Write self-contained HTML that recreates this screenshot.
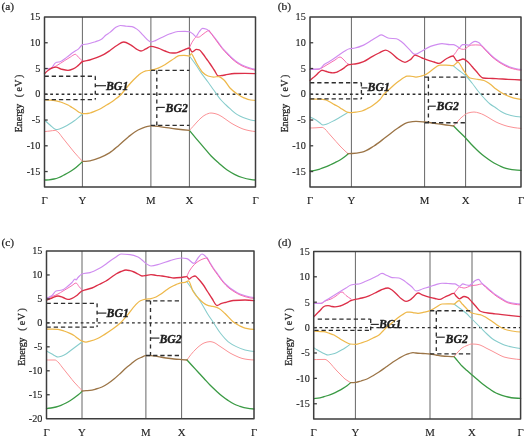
<!DOCTYPE html>
<html><head><meta charset="utf-8"><title>Band structures</title>
<style>
html,body{margin:0;padding:0;background:#fff;}
body{width:525px;height:436px;overflow:hidden;}
svg{display:block;filter:blur(0.35px);}
text{font-family:"Liberation Serif",serif;fill:#1e1e1e;stroke:#1e1e1e;stroke-width:0.14px;}
.tk{font-size:10.2px;text-anchor:end;}
.kl{font-size:10.8px;text-anchor:middle;}
.ttl{font-size:9.9px;stroke-width:0.25px;}
.pl{font-size:11.4px;stroke-width:0.2px;}
.bg{font-size:11.8px;font-weight:bold;font-style:italic;stroke-width:0.35px;}
</style></head>
<body>
<svg width="525" height="436" viewBox="0 0 525 436">
<rect x="0" y="0" width="525" height="436" fill="#fff"/>
<line x1="82.40" y1="17.00" x2="82.40" y2="187.00" stroke="#666666" stroke-width="1.0"/>
<line x1="150.90" y1="17.00" x2="150.90" y2="187.00" stroke="#666666" stroke-width="1.0"/>
<line x1="189.40" y1="17.00" x2="189.40" y2="187.00" stroke="#666666" stroke-width="1.0"/>
<line x1="44.50" y1="94.27" x2="255.50" y2="94.27" stroke="#2e2e2e" stroke-width="1.3" stroke-dasharray="2.8,2.9"/>
<path d="M44.50,68.60 C46.63,68.60 48.77,68.48 50.90,68.30 C52.80,68.14 54.70,66.70 56.60,65.70 C59.27,64.29 61.93,62.27 64.60,60.60 C66.50,59.41 68.40,58.20 70.30,57.10 C72.00,56.12 73.70,54.30 75.40,54.30 C76.37,54.30 77.33,56.18 78.30,57.10 C79.73,58.46 81.17,59.80 82.60,61.10" fill="none" stroke="#f766ac" stroke-width="0.95" stroke-linejoin="round" stroke-linecap="round"/>
<path d="M189.40,47.80 C190.53,45.10 191.67,42.71 192.80,41.10 C194.03,39.34 195.27,37.00 196.50,37.00 C197.10,37.00 197.70,37.20 198.30,37.20 C199.87,37.20 201.43,35.25 203.00,34.20 C204.50,33.19 206.00,31.64 207.50,31.00 C208.00,30.79 208.50,30.62 209.00,30.50" fill="none" stroke="#f766ac" stroke-width="0.95" stroke-linejoin="round" stroke-linecap="round"/>
<path d="M44.50,68.60 C46.63,68.60 48.77,68.60 50.90,68.60 C52.23,68.60 53.57,64.50 54.90,63.40 C55.47,62.93 56.03,62.47 56.60,62.30 C57.73,61.96 58.87,62.00 60.00,61.70 C62.30,61.10 64.60,58.72 66.90,57.10 C69.17,55.50 71.43,53.54 73.70,52.00 C75.23,50.96 76.77,50.31 78.30,49.10 C79.73,47.97 81.17,44.92 82.60,44.60 C84.20,44.24 85.80,44.27 87.40,44.00 C90.07,43.55 92.73,42.59 95.40,41.70 C97.27,41.07 99.13,40.53 101.00,39.50 C102.67,38.58 104.33,36.25 106.00,35.00 C107.33,34.00 108.67,33.39 110.00,32.40 C111.83,31.04 113.67,28.66 115.50,27.60 C117.10,26.67 118.70,25.50 120.30,25.50 C122.37,25.50 124.43,26.02 126.50,26.20 C128.33,26.36 130.17,26.36 132.00,26.60 C133.83,26.84 135.67,28.31 137.50,29.60 C139.33,30.89 141.17,33.27 143.00,35.10 C144.83,36.93 146.67,39.29 148.50,40.60 C149.30,41.17 150.10,42.00 150.90,42.00 C152.40,42.00 153.90,41.16 155.40,40.60 C157.70,39.74 160.00,38.27 162.30,37.20 C164.87,36.00 167.43,34.70 170.00,33.80 C172.67,32.87 175.33,31.64 178.00,31.50 C180.33,31.38 182.67,31.30 185.00,31.30 C186.47,31.30 187.93,31.51 189.40,31.80 C190.60,32.04 191.80,33.15 193.00,34.00 C194.00,34.71 195.00,36.50 196.00,36.50 C197.00,36.50 198.00,33.23 199.00,32.00 C200.17,30.57 201.33,28.40 202.50,28.40 C203.87,28.40 205.23,28.76 206.60,29.20 C207.83,29.60 209.07,31.17 210.30,32.40 C211.87,33.96 213.43,36.01 215.00,38.00 C216.67,40.12 218.33,42.54 220.00,44.80 C220.67,45.70 221.33,46.68 222.00,47.50 C223.67,49.55 225.33,51.25 227.00,53.00 C228.67,54.75 230.33,56.52 232.00,58.00 C233.67,59.48 235.33,60.86 237.00,62.00 C238.67,63.14 240.33,64.20 242.00,65.00 C243.67,65.80 245.33,66.44 247.00,67.00 C249.83,67.95 252.67,68.81 255.50,69.40" fill="none" stroke="#cf8cf0" stroke-width="1.15" stroke-linejoin="round" stroke-linecap="round"/>
<path d="M209.00,30.50 C211.00,33.34 213.00,36.14 215.00,38.90 C216.67,41.20 218.33,43.44 220.00,45.70 C220.67,46.60 221.33,47.58 222.00,48.40 C223.67,50.45 225.33,52.15 227.00,53.90 C228.67,55.65 230.33,57.42 232.00,58.90 C233.67,60.38 235.33,61.76 237.00,62.90 C238.67,64.04 240.33,65.10 242.00,65.90 C243.67,66.70 245.33,67.34 247.00,67.90 C249.83,68.85 252.67,69.71 255.50,70.30" fill="none" stroke="#f766ac" stroke-width="0.95" stroke-linejoin="round" stroke-linecap="round"/>
<path d="M44.50,73.70 C45.87,72.23 47.23,70.97 48.60,70.00 C49.73,69.20 50.87,68.37 52.00,68.00 C53.33,67.56 54.67,67.10 56.00,67.10 C57.70,67.10 59.40,68.68 61.10,69.10 C63.40,69.67 65.70,70.30 68.00,70.30 C69.90,70.30 71.80,69.40 73.70,68.60 C75.23,67.95 76.77,66.61 78.30,65.40 C79.73,64.27 81.17,62.02 82.60,61.50 C84.97,60.65 87.33,60.61 89.70,60.00 C92.00,59.40 94.30,58.59 96.60,57.70 C99.07,56.75 101.53,55.62 104.00,54.30 C106.00,53.23 108.00,51.85 110.00,50.50 C112.30,48.95 114.60,46.87 116.90,45.50 C119.20,44.13 121.50,42.00 123.80,42.00 C126.07,42.00 128.33,43.59 130.60,44.80 C132.43,45.78 134.27,47.91 136.10,48.90 C137.73,49.78 139.37,51.00 141.00,51.00 C142.60,51.00 144.20,49.64 145.80,48.90 C147.50,48.11 149.20,46.40 150.90,46.40 C153.33,46.40 155.77,47.45 158.20,48.20 C160.47,48.90 162.73,50.13 165.00,51.00 C166.67,51.64 168.33,52.68 170.00,52.80 C171.67,52.92 173.33,53.00 175.00,53.00 C176.67,53.00 178.33,52.07 180.00,51.50 C181.67,50.93 183.33,50.11 185.00,49.50 C186.47,48.96 187.93,48.00 189.40,48.00 C190.27,48.00 191.13,52.00 192.00,52.00 C193.50,52.00 195.00,49.40 196.50,49.40 C197.43,49.40 198.37,49.57 199.30,49.80 C200.53,50.10 201.77,52.46 203.00,54.00 C204.20,55.50 205.40,57.33 206.60,59.00 C207.80,60.67 209.00,62.26 210.20,64.00 C211.63,66.07 213.07,68.38 214.50,70.50 C215.77,72.37 217.03,76.00 218.30,76.00 C219.53,76.00 220.77,75.68 222.00,75.50 C223.00,75.35 224.00,75.16 225.00,75.00 C228.10,74.49 231.20,73.61 234.30,73.50 C237.87,73.38 241.43,73.30 245.00,73.30 C248.50,73.30 252.00,73.42 255.50,73.60" fill="none" stroke="#dc2f48" stroke-width="1.35" stroke-linejoin="round" stroke-linecap="round"/>
<path d="M44.50,120.00 C46.33,121.79 48.17,123.47 50.00,125.00 C52.00,126.67 54.00,129.60 56.00,129.60 C57.33,129.60 58.67,129.17 60.00,128.80 C61.33,128.43 62.67,127.65 64.00,127.00 C65.67,126.18 67.33,125.29 69.00,124.30 C70.67,123.31 72.33,122.21 74.00,121.00 C75.33,120.03 76.67,118.91 78.00,117.80 C79.47,116.58 80.93,115.32 82.40,114.00" fill="none" stroke="#86cccc" stroke-width="1.05" stroke-linejoin="round" stroke-linecap="round"/>
<path d="M189.40,56.00 C191.60,58.83 193.80,61.84 196.00,65.00 C198.07,67.97 200.13,71.50 202.20,74.40 C204.13,77.12 206.07,79.38 208.00,82.00 C209.90,84.58 211.80,87.36 213.70,90.00 C216.13,93.38 218.57,97.21 221.00,100.00 C222.67,101.91 224.33,103.40 226.00,105.00 C227.33,106.28 228.67,107.53 230.00,108.70 C232.30,110.72 234.60,112.98 236.90,114.40 C239.20,115.82 241.50,116.93 243.80,117.80 C246.07,118.66 248.33,119.42 250.60,119.90 C252.23,120.24 253.87,120.53 255.50,120.70" fill="none" stroke="#86cccc" stroke-width="1.05" stroke-linejoin="round" stroke-linecap="round"/>
<path d="M44.50,100.00 C46.33,100.01 48.17,100.10 50.00,100.20 C52.00,100.31 54.00,100.50 56.00,100.80 C58.00,101.10 60.00,101.83 62.00,102.50 C64.00,103.17 66.00,103.99 68.00,105.00 C69.33,105.68 70.67,106.67 72.00,107.50 C73.33,108.33 74.67,109.10 76.00,110.00 C77.00,110.68 78.00,111.67 79.00,112.20 C80.13,112.80 81.27,113.60 82.40,113.60 C83.60,113.60 84.80,113.60 86.00,113.60 C87.33,113.60 88.67,113.28 90.00,113.00 C91.67,112.65 93.33,111.86 95.00,111.20 C96.67,110.54 98.33,109.85 100.00,109.00 C101.67,108.15 103.33,107.00 105.00,106.00 C106.67,105.00 108.33,104.08 110.00,103.00 C111.67,101.92 113.33,100.74 115.00,99.50 C116.67,98.26 118.33,97.07 120.00,95.50 C121.33,94.25 122.67,92.58 124.00,91.00 C125.33,89.42 126.67,87.57 128.00,86.00 C129.80,83.88 131.60,81.86 133.40,80.00 C134.60,78.76 135.80,77.59 137.00,76.50 C138.10,75.50 139.20,74.41 140.30,73.70 C142.13,72.51 143.97,71.29 145.80,70.90 C147.50,70.54 149.20,70.50 150.90,70.20 C153.33,69.76 155.77,69.07 158.20,68.20 C160.47,67.39 162.73,66.04 165.00,64.70 C166.67,63.72 168.33,62.42 170.00,61.30 C171.67,60.18 173.33,59.05 175.00,58.00 C176.33,57.16 177.67,55.75 179.00,55.60 C180.67,55.41 182.33,55.30 184.00,55.30 C185.80,55.30 187.60,56.00 189.40,56.00 C190.03,56.00 190.67,53.50 191.30,53.50 C192.03,53.50 192.77,55.71 193.50,57.00 C194.50,58.76 195.50,61.18 196.50,63.00 C197.50,64.82 198.50,66.43 199.50,68.00 C200.40,69.41 201.30,71.11 202.20,72.00 C204.13,73.90 206.07,75.46 208.00,76.00 C209.90,76.53 211.80,77.00 213.70,77.00 C215.40,77.00 217.10,76.50 218.80,76.50 C220.53,76.50 222.27,78.46 224.00,80.00 C226.00,81.78 228.00,85.93 230.00,88.00 C232.30,90.38 234.60,92.22 236.90,93.80 C239.20,95.38 241.50,96.85 243.80,97.80 C246.07,98.74 248.33,99.71 250.60,100.00 C252.23,100.21 253.87,100.40 255.50,100.40" fill="none" stroke="#eeb84a" stroke-width="1.25" stroke-linejoin="round" stroke-linecap="round"/>
<path d="M44.50,131.60 C46.33,131.41 48.17,131.21 50.00,131.00 C51.67,130.81 53.33,130.40 55.00,130.40 C56.00,130.40 57.00,131.27 58.00,132.00 C59.33,132.98 60.67,135.33 62.00,137.00 C63.33,138.67 64.67,140.33 66.00,142.00 C67.33,143.67 68.67,145.33 70.00,147.00 C71.33,148.67 72.67,150.42 74.00,152.00 C75.33,153.58 76.67,155.04 78.00,156.50 C79.47,158.11 80.93,159.68 82.40,161.20" fill="none" stroke="#fb9296" stroke-width="1.00" stroke-linejoin="round" stroke-linecap="round"/>
<path d="M189.40,130.40 C190.60,129.12 191.80,127.82 193.00,126.50 C194.33,125.03 195.67,123.41 197.00,122.00 C198.33,120.59 199.67,119.14 201.00,118.00 C202.33,116.86 203.67,115.63 205.00,115.00 C207.00,114.05 209.00,113.00 211.00,113.00 C212.33,113.00 213.67,113.32 215.00,113.60 C216.33,113.88 217.67,114.41 219.00,115.00 C221.00,115.88 223.00,117.47 225.00,118.80 C227.00,120.13 229.00,121.77 231.00,123.00 C233.00,124.23 235.00,125.31 237.00,126.30 C239.00,127.29 241.00,128.33 243.00,129.00 C245.00,129.67 247.00,130.21 249.00,130.60 C251.17,131.02 253.33,131.39 255.50,131.60" fill="none" stroke="#fb9296" stroke-width="1.00" stroke-linejoin="round" stroke-linecap="round"/>
<path d="M44.50,180.00 C46.00,180.00 47.50,179.90 49.00,179.80 C50.67,179.69 52.33,179.35 54.00,179.00 C55.67,178.65 57.33,178.12 59.00,177.50 C60.67,176.88 62.33,175.87 64.00,175.00 C65.67,174.13 67.33,173.29 69.00,172.30 C70.67,171.31 72.33,170.21 74.00,169.00 C75.33,168.03 76.67,166.96 78.00,165.80 C79.47,164.53 80.93,163.12 82.40,161.60" fill="none" stroke="#3a9a44" stroke-width="1.30" stroke-linejoin="round" stroke-linecap="round"/>
<path d="M189.40,130.40 C191.60,133.06 193.80,135.70 196.00,138.30 C198.57,141.34 201.13,144.30 203.70,147.30 C206.27,150.30 208.83,153.65 211.40,156.30 C213.97,158.95 216.53,161.16 219.10,163.40 C221.67,165.64 224.23,168.04 226.80,169.80 C229.37,171.56 231.93,173.05 234.50,174.30 C237.07,175.55 239.63,176.71 242.20,177.50 C244.77,178.29 247.33,179.02 249.90,179.40 C251.77,179.67 253.63,179.91 255.50,180.00" fill="none" stroke="#3a9a44" stroke-width="1.30" stroke-linejoin="round" stroke-linecap="round"/>
<path d="M82.40,161.40 C84.93,161.40 87.47,161.11 90.00,160.80 C93.33,160.39 96.67,158.90 100.00,157.60 C103.17,156.37 106.33,154.85 109.50,152.90 C112.67,150.95 115.83,147.88 119.00,145.20 C122.20,142.49 125.40,139.21 128.60,136.70 C131.77,134.21 134.93,131.65 138.10,130.00 C140.63,128.68 143.17,127.45 145.70,126.80 C147.47,126.35 149.23,125.80 151.00,125.80 C154.33,125.80 157.67,126.41 161.00,126.80 C166.07,127.39 171.13,128.38 176.20,129.00 C180.60,129.54 185.00,130.01 189.40,130.40" fill="none" stroke="#9b7446" stroke-width="1.30" stroke-linejoin="round" stroke-linecap="round"/>
<line x1="44.50" y1="76.20" x2="95.30" y2="76.20" stroke="#2e2e2e" stroke-width="1.35" stroke-dasharray="4.3,2.9"/>
<line x1="44.50" y1="99.60" x2="95.30" y2="99.60" stroke="#2e2e2e" stroke-width="1.35" stroke-dasharray="4.3,2.9"/>
<line x1="95.30" y1="76.20" x2="95.30" y2="99.60" stroke="#2e2e2e" stroke-width="1.35" stroke-dasharray="3.8,3.5"/>
<line x1="95.30" y1="85.70" x2="106.00" y2="85.70" stroke="#2e2e2e" stroke-width="1.2"/>
<text x="106.00" y="89.80" class="bg">BG1</text>
<line x1="150.90" y1="70.40" x2="189.40" y2="70.40" stroke="#2e2e2e" stroke-width="1.35" stroke-dasharray="4.3,2.9"/>
<line x1="150.90" y1="125.30" x2="189.40" y2="125.30" stroke="#2e2e2e" stroke-width="1.35" stroke-dasharray="4.3,2.9"/>
<line x1="156.80" y1="70.40" x2="156.80" y2="125.30" stroke="#2e2e2e" stroke-width="1.35" stroke-dasharray="3.8,3.5"/>
<line x1="156.80" y1="107.40" x2="164.80" y2="107.40" stroke="#2e2e2e" stroke-width="1.2"/>
<text x="165.60" y="111.80" class="bg">BG2</text>
<text x="40.30" y="20.20" class="tk">15</text>
<line x1="44.50" y1="42.76" x2="47.70" y2="42.76" stroke="#3d3d3d" stroke-width="1.3"/>
<text x="40.30" y="45.96" class="tk">10</text>
<line x1="44.50" y1="68.52" x2="47.70" y2="68.52" stroke="#3d3d3d" stroke-width="1.3"/>
<text x="40.30" y="71.72" class="tk">5</text>
<line x1="44.50" y1="94.27" x2="47.70" y2="94.27" stroke="#3d3d3d" stroke-width="1.3"/>
<text x="40.30" y="97.47" class="tk">0</text>
<line x1="44.50" y1="120.03" x2="47.70" y2="120.03" stroke="#3d3d3d" stroke-width="1.3"/>
<text x="40.30" y="123.23" class="tk">-5</text>
<line x1="44.50" y1="145.79" x2="47.70" y2="145.79" stroke="#3d3d3d" stroke-width="1.3"/>
<text x="40.30" y="148.99" class="tk">-10</text>
<line x1="44.50" y1="171.55" x2="47.70" y2="171.55" stroke="#3d3d3d" stroke-width="1.3"/>
<text x="40.30" y="174.75" class="tk">-15</text>
<rect x="44.50" y="17.00" width="211.00" height="170.00" fill="none" stroke="#3d3d3d" stroke-width="1.5" stroke-linejoin="round"/>
<text x="44.50" y="204.00" class="kl">Γ</text>
<text x="82.40" y="204.00" class="kl">Y</text>
<text x="150.90" y="204.00" class="kl">M</text>
<text x="189.40" y="204.00" class="kl">X</text>
<text x="255.50" y="204.00" class="kl">Γ</text>
<text transform="translate(22.40,132.20) rotate(-90)" class="ttl"><tspan x="0">Energy</tspan><tspan x="35.0">(</tspan><tspan x="40.6">e</tspan><tspan x="45.5">V</tspan><tspan x="54.3">)</tspan></text>
<text x="1.40" y="10.20" class="pl">(a)</text>
<line x1="351.40" y1="17.00" x2="351.40" y2="187.00" stroke="#666666" stroke-width="1.0"/>
<line x1="424.60" y1="17.00" x2="424.60" y2="187.00" stroke="#666666" stroke-width="1.0"/>
<line x1="465.60" y1="17.00" x2="465.60" y2="187.00" stroke="#666666" stroke-width="1.0"/>
<line x1="310.00" y1="94.27" x2="521.00" y2="94.27" stroke="#2e2e2e" stroke-width="1.3" stroke-dasharray="2.8,2.9"/>
<path d="M310.00,69.40 C312.67,69.40 315.33,69.40 318.00,69.40 C320.33,69.40 322.67,67.26 325.00,66.00 C326.67,65.10 328.33,64.00 330.00,63.00 C331.67,62.00 333.33,61.00 335.00,60.00 C336.67,59.00 338.33,57.00 340.00,57.00 C341.33,57.00 342.67,58.86 344.00,60.00 C345.33,61.14 346.67,63.61 348.00,64.00 C349.13,64.33 350.27,64.60 351.40,64.60" fill="none" stroke="#f766ac" stroke-width="0.95" stroke-linejoin="round" stroke-linecap="round"/>
<path d="M453.00,56.00 C453.90,54.87 454.80,53.74 455.70,52.60 C456.83,51.17 457.97,48.30 459.10,48.30 C459.87,48.30 460.63,48.95 461.40,49.10 C462.17,49.25 462.93,49.40 463.70,49.40 C464.47,49.40 465.23,48.75 466.00,48.30 C466.97,47.73 467.93,46.44 468.90,46.00 C469.83,45.57 470.77,45.18 471.70,45.10 C473.03,44.98 474.37,44.90 475.70,44.90 C477.13,44.90 478.57,44.96 480.00,45.10 C480.67,45.16 481.33,45.73 482.00,46.20" fill="none" stroke="#f766ac" stroke-width="0.95" stroke-linejoin="round" stroke-linecap="round"/>
<path d="M310.00,69.40 C313.13,69.40 316.27,69.25 319.40,68.90 C321.10,68.71 322.80,65.51 324.50,64.30 C326.93,62.57 329.37,61.65 331.80,60.10 C334.20,58.58 336.60,56.66 339.00,55.00 C340.67,53.84 342.33,52.59 344.00,51.60 C345.77,50.55 347.53,49.17 349.30,48.80 C350.00,48.65 350.70,48.60 351.40,48.50 C352.60,48.33 353.80,48.22 355.00,48.00 C357.87,47.47 360.73,46.33 363.60,45.10 C366.43,43.88 369.27,41.83 372.10,40.10 C373.73,39.10 375.37,37.89 377.00,37.00 C378.47,36.20 379.93,34.90 381.40,34.90 C382.60,34.90 383.80,35.98 385.00,36.50 C386.43,37.12 387.87,38.15 389.30,38.30 C391.67,38.55 394.03,38.45 396.40,38.70 C398.30,38.90 400.20,40.85 402.10,42.30 C404.50,44.13 406.90,47.18 409.30,49.40 C411.20,51.16 413.10,54.40 415.00,54.40 C417.37,54.40 419.73,52.12 422.10,50.90 C424.73,49.54 427.37,47.53 430.00,46.60 C434.00,45.19 438.00,43.60 442.00,43.60 C444.67,43.60 447.33,44.60 450.00,44.60 C451.13,44.60 452.27,44.60 453.40,44.60 C454.43,44.60 455.47,45.47 456.50,46.00 C457.47,46.49 458.43,47.70 459.40,47.70 C459.93,47.70 460.47,46.51 461.00,46.00 C461.53,45.49 462.07,44.60 462.60,44.60 C463.53,44.60 464.47,44.60 465.40,44.60 C466.57,44.60 467.73,45.10 468.90,45.10 C469.83,45.10 470.77,43.43 471.70,42.90 C472.83,42.25 473.97,41.40 475.10,41.40 C476.27,41.40 477.43,42.00 478.60,42.60 C479.40,43.01 480.20,44.01 481.00,44.80 C482.00,45.78 483.00,46.97 484.00,48.00 C485.33,49.38 486.67,50.67 488.00,52.00 C489.33,53.33 490.67,54.81 492.00,56.00 C493.33,57.19 494.67,58.20 496.00,59.20 C497.33,60.20 498.67,61.17 500.00,62.00 C501.67,63.04 503.33,63.98 505.00,64.80 C506.67,65.62 508.33,66.49 510.00,67.00 C513.67,68.12 517.33,69.16 521.00,69.40" fill="none" stroke="#cf8cf0" stroke-width="1.15" stroke-linejoin="round" stroke-linecap="round"/>
<path d="M482.00,46.20 C484.00,48.57 486.00,50.80 488.00,52.90 C489.33,54.30 490.67,55.71 492.00,56.90 C493.33,58.09 494.67,59.10 496.00,60.10 C497.33,61.10 498.67,62.07 500.00,62.90 C501.67,63.94 503.33,64.88 505.00,65.70 C506.67,66.52 508.33,67.39 510.00,67.90 C513.67,69.02 517.33,70.06 521.00,70.30" fill="none" stroke="#f766ac" stroke-width="0.95" stroke-linejoin="round" stroke-linecap="round"/>
<path d="M310.00,80.40 C311.00,79.51 312.00,78.64 313.00,77.80 C314.10,76.87 315.20,76.11 316.30,75.10 C317.20,74.27 318.10,73.05 319.00,72.30 C320.00,71.46 321.00,70.20 322.00,70.20 C322.83,70.20 323.67,70.57 324.50,70.80 C325.20,71.00 325.90,71.27 326.60,71.50 C327.57,71.81 328.53,72.20 329.50,72.40 C330.60,72.63 331.70,72.90 332.80,72.90 C333.87,72.90 334.93,72.65 336.00,72.40 C337.00,72.16 338.00,71.52 339.00,71.00 C340.73,70.10 342.47,69.06 344.20,67.90 C345.57,66.98 346.93,65.15 348.30,64.80 C349.33,64.53 350.37,64.41 351.40,64.30 C352.60,64.17 353.80,64.14 355.00,64.00 C357.87,63.66 360.73,62.69 363.60,61.60 C366.43,60.53 369.27,58.16 372.10,56.60 C374.40,55.33 376.70,54.09 379.00,53.00 C381.23,51.94 383.47,50.10 385.70,50.10 C387.83,50.10 389.97,52.24 392.10,53.70 C394.03,55.02 395.97,57.45 397.90,58.70 C400.27,60.22 402.63,62.30 405.00,62.30 C406.90,62.30 408.80,60.70 410.70,59.40 C412.13,58.42 413.57,55.10 415.00,55.10 C417.37,55.10 419.73,57.08 422.10,58.00 C424.73,59.02 427.37,60.08 430.00,60.90 C431.33,61.31 432.67,61.63 434.00,62.00 C435.67,62.46 437.33,63.40 439.00,63.40 C441.33,63.40 443.67,60.19 446.00,59.00 C448.33,57.81 450.67,56.00 453.00,56.00 C454.33,56.00 455.67,61.00 457.00,61.00 C458.00,61.00 459.00,60.33 460.00,60.00 C461.00,59.67 462.00,59.00 463.00,59.00 C464.67,59.00 466.33,60.68 468.00,62.00 C469.33,63.06 470.67,65.00 472.00,66.50 C473.33,68.00 474.67,69.58 476.00,71.00 C478.33,73.48 480.67,77.75 483.00,78.00 C485.33,78.25 487.67,78.30 490.00,78.40 C492.00,78.48 494.00,78.51 496.00,78.60 C500.00,78.77 504.00,79.18 508.00,79.40 C512.33,79.64 516.67,79.85 521.00,80.00" fill="none" stroke="#dc2f48" stroke-width="1.35" stroke-linejoin="round" stroke-linecap="round"/>
<path d="M310.00,117.00 C312.00,117.70 314.00,118.78 316.00,120.00 C317.33,120.81 318.67,122.06 320.00,123.00 C321.00,123.70 322.00,125.00 323.00,125.00 C324.33,125.00 325.67,124.43 327.00,124.00 C328.67,123.46 330.33,122.43 332.00,121.60 C333.67,120.77 335.33,119.93 337.00,119.00 C338.67,118.07 340.33,117.00 342.00,116.00 C344.00,114.80 346.00,113.60 348.00,112.40" fill="none" stroke="#86cccc" stroke-width="1.05" stroke-linejoin="round" stroke-linecap="round"/>
<path d="M453.00,65.60 C455.00,67.26 457.00,68.90 459.00,70.50 C461.33,72.37 463.67,73.80 466.00,76.00 C468.00,77.89 470.00,80.51 472.00,83.00 C474.00,85.49 476.00,88.51 478.00,91.00 C480.00,93.49 482.00,95.85 484.00,98.00 C486.00,100.15 488.00,102.40 490.00,104.00 C492.00,105.60 494.00,106.63 496.00,108.00 C497.67,109.14 499.33,110.53 501.00,111.50 C502.67,112.47 504.33,113.38 506.00,114.00 C507.67,114.62 509.33,115.12 511.00,115.50 C512.67,115.88 514.33,116.16 516.00,116.40 C517.67,116.64 519.33,116.85 521.00,117.00" fill="none" stroke="#86cccc" stroke-width="1.05" stroke-linejoin="round" stroke-linecap="round"/>
<path d="M310.00,99.00 C313.33,99.00 316.67,99.00 320.00,99.00 C322.00,99.00 324.00,99.48 326.00,100.00 C327.33,100.34 328.67,101.27 330.00,102.00 C331.33,102.73 332.67,103.65 334.00,104.40 C335.33,105.15 336.67,105.74 338.00,106.50 C339.33,107.26 340.67,108.20 342.00,109.00 C344.00,110.19 346.00,112.23 348.00,112.40 C349.33,112.52 350.67,112.60 352.00,112.60 C353.67,112.60 355.33,112.25 357.00,112.00 C358.67,111.75 360.33,111.46 362.00,111.00 C363.67,110.54 365.33,109.53 367.00,108.70 C368.67,107.87 370.33,107.05 372.00,106.00 C373.33,105.16 374.67,104.08 376.00,103.00 C377.33,101.92 378.67,100.93 380.00,99.50 C381.33,98.07 382.67,95.46 384.00,94.00 C385.67,92.17 387.33,91.00 389.00,89.50 C390.67,88.00 392.33,86.41 394.00,85.00 C395.67,83.59 397.33,82.24 399.00,81.00 C400.67,79.76 402.33,78.38 404.00,77.50 C405.00,76.97 406.00,76.32 407.00,76.20 C408.00,76.08 409.00,76.00 410.00,76.00 C412.00,76.00 414.00,77.00 416.00,77.00 C418.87,77.00 421.73,76.00 424.60,75.00 C427.07,74.14 429.53,71.76 432.00,70.00 C433.33,69.05 434.67,67.80 436.00,67.00 C437.33,66.20 438.67,65.00 440.00,65.00 C442.00,65.00 444.00,65.00 446.00,65.00 C448.33,65.00 450.67,65.60 453.00,65.60 C454.67,65.60 456.33,62.00 458.00,62.00 C459.00,62.00 460.00,64.52 461.00,66.00 C462.00,67.48 463.00,69.60 464.00,71.00 C466.00,73.80 468.00,77.37 470.00,78.00 C472.67,78.84 475.33,78.92 478.00,79.40 C480.00,79.76 482.00,79.94 484.00,80.50 C486.00,81.06 488.00,82.63 490.00,84.00 C492.00,85.37 494.00,87.52 496.00,89.00 C498.00,90.48 500.00,91.86 502.00,93.00 C504.00,94.14 506.00,95.15 508.00,96.00 C510.00,96.85 512.00,97.73 514.00,98.20 C516.33,98.75 518.67,99.25 521.00,99.40" fill="none" stroke="#eeb84a" stroke-width="1.25" stroke-linejoin="round" stroke-linecap="round"/>
<path d="M310.00,128.00 C312.00,127.97 314.00,127.89 316.00,127.80 C318.00,127.71 320.00,127.40 322.00,127.40 C323.00,127.40 324.00,128.27 325.00,129.00 C326.00,129.73 327.00,131.35 328.00,132.50 C329.33,134.03 330.67,135.50 332.00,137.00 C333.33,138.50 334.67,140.00 336.00,141.50 C337.33,143.00 338.67,144.59 340.00,146.00 C341.33,147.41 342.67,148.74 344.00,150.00 C345.33,151.26 346.67,152.47 348.00,153.60" fill="none" stroke="#fb9296" stroke-width="1.00" stroke-linejoin="round" stroke-linecap="round"/>
<path d="M453.60,126.00 C455.07,124.23 456.53,122.56 458.00,121.00 C459.33,119.58 460.67,118.08 462.00,117.00 C464.00,115.38 466.00,113.53 468.00,113.00 C470.00,112.47 472.00,112.00 474.00,112.00 C475.67,112.00 477.33,112.56 479.00,113.00 C480.67,113.44 482.33,114.21 484.00,115.00 C486.00,115.94 488.00,117.33 490.00,118.50 C492.00,119.67 494.00,121.03 496.00,122.00 C498.00,122.97 500.00,123.78 502.00,124.50 C504.00,125.22 506.00,125.91 508.00,126.40 C510.00,126.89 512.00,127.31 514.00,127.60 C516.33,127.94 518.67,128.24 521.00,128.40" fill="none" stroke="#fb9296" stroke-width="1.00" stroke-linejoin="round" stroke-linecap="round"/>
<path d="M310.00,171.00 C311.67,170.87 313.33,170.60 315.00,170.30 C316.67,170.00 318.33,169.50 320.00,169.00 C321.67,168.50 323.33,167.86 325.00,167.20 C326.67,166.54 328.33,165.77 330.00,165.00 C331.67,164.23 333.33,163.43 335.00,162.60 C336.67,161.77 338.33,160.98 340.00,160.00 C341.33,159.21 342.67,158.29 344.00,157.30 C345.33,156.31 346.67,155.20 348.00,154.00" fill="none" stroke="#3a9a44" stroke-width="1.30" stroke-linejoin="round" stroke-linecap="round"/>
<path d="M453.60,126.00 C455.40,127.86 457.20,129.70 459.00,131.50 C461.20,133.70 463.40,135.70 465.60,138.00 C467.40,139.88 469.20,142.11 471.00,144.00 C472.67,145.75 474.33,147.40 476.00,149.00 C478.00,150.92 480.00,152.85 482.00,154.50 C484.00,156.15 486.00,157.59 488.00,159.00 C490.00,160.41 492.00,161.86 494.00,163.00 C496.00,164.14 498.00,165.13 500.00,166.00 C502.00,166.87 504.00,167.75 506.00,168.30 C508.00,168.85 510.00,169.34 512.00,169.60 C515.00,169.99 518.00,170.36 521.00,170.40" fill="none" stroke="#3a9a44" stroke-width="1.30" stroke-linejoin="round" stroke-linecap="round"/>
<path d="M348.00,153.60 C349.33,153.60 350.67,153.55 352.00,153.50 C355.33,153.37 358.67,152.88 362.00,152.20 C366.00,151.38 370.00,148.45 374.00,146.00 C378.00,143.55 382.00,140.00 386.00,137.00 C390.00,134.00 394.00,130.55 398.00,128.00 C401.33,125.87 404.67,123.07 408.00,122.40 C410.67,121.87 413.33,121.40 416.00,121.40 C418.87,121.40 421.73,121.74 424.60,122.00 C428.40,122.35 432.20,123.07 436.00,123.60 C439.33,124.07 442.67,124.55 446.00,125.00 C448.53,125.34 451.07,125.68 453.60,126.00" fill="none" stroke="#9b7446" stroke-width="1.30" stroke-linejoin="round" stroke-linecap="round"/>
<line x1="310.00" y1="82.70" x2="361.40" y2="82.70" stroke="#2e2e2e" stroke-width="1.35" stroke-dasharray="4.3,2.9"/>
<line x1="310.00" y1="98.90" x2="361.40" y2="98.90" stroke="#2e2e2e" stroke-width="1.35" stroke-dasharray="4.3,2.9"/>
<line x1="361.40" y1="82.70" x2="361.40" y2="98.90" stroke="#2e2e2e" stroke-width="1.35" stroke-dasharray="3.8,3.5"/>
<line x1="361.40" y1="87.90" x2="367.50" y2="87.90" stroke="#2e2e2e" stroke-width="1.2"/>
<text x="367.60" y="91.40" class="bg">BG1</text>
<line x1="424.60" y1="77.10" x2="465.60" y2="77.10" stroke="#2e2e2e" stroke-width="1.35" stroke-dasharray="4.3,2.9"/>
<line x1="424.60" y1="122.70" x2="465.60" y2="122.70" stroke="#2e2e2e" stroke-width="1.35" stroke-dasharray="4.3,2.9"/>
<line x1="428.40" y1="77.10" x2="428.40" y2="122.70" stroke="#2e2e2e" stroke-width="1.35" stroke-dasharray="3.8,3.5"/>
<line x1="428.40" y1="106.20" x2="435.80" y2="106.20" stroke="#2e2e2e" stroke-width="1.2"/>
<text x="436.60" y="110.00" class="bg">BG2</text>
<text x="305.80" y="20.20" class="tk">15</text>
<line x1="310.00" y1="42.76" x2="313.20" y2="42.76" stroke="#3d3d3d" stroke-width="1.3"/>
<text x="305.80" y="45.96" class="tk">10</text>
<line x1="310.00" y1="68.52" x2="313.20" y2="68.52" stroke="#3d3d3d" stroke-width="1.3"/>
<text x="305.80" y="71.72" class="tk">5</text>
<line x1="310.00" y1="94.27" x2="313.20" y2="94.27" stroke="#3d3d3d" stroke-width="1.3"/>
<text x="305.80" y="97.47" class="tk">0</text>
<line x1="310.00" y1="120.03" x2="313.20" y2="120.03" stroke="#3d3d3d" stroke-width="1.3"/>
<text x="305.80" y="123.23" class="tk">-5</text>
<line x1="310.00" y1="145.79" x2="313.20" y2="145.79" stroke="#3d3d3d" stroke-width="1.3"/>
<text x="305.80" y="148.99" class="tk">-10</text>
<line x1="310.00" y1="171.55" x2="313.20" y2="171.55" stroke="#3d3d3d" stroke-width="1.3"/>
<text x="305.80" y="174.75" class="tk">-15</text>
<rect x="310.00" y="17.00" width="211.00" height="170.00" fill="none" stroke="#3d3d3d" stroke-width="1.5" stroke-linejoin="round"/>
<text x="310.00" y="204.00" class="kl">Γ</text>
<text x="351.40" y="204.00" class="kl">Y</text>
<text x="424.60" y="204.00" class="kl">M</text>
<text x="465.60" y="204.00" class="kl">X</text>
<text x="521.00" y="204.00" class="kl">Γ</text>
<text transform="translate(287.90,132.20) rotate(-90)" class="ttl"><tspan x="0">Energy</tspan><tspan x="35.0">(</tspan><tspan x="40.6">e</tspan><tspan x="45.5">V</tspan><tspan x="54.3">)</tspan></text>
<text x="277.70" y="10.20" class="pl">(b)</text>
<line x1="82.00" y1="251.00" x2="82.00" y2="418.70" stroke="#666666" stroke-width="1.0"/>
<line x1="145.90" y1="251.00" x2="145.90" y2="418.70" stroke="#666666" stroke-width="1.0"/>
<line x1="181.60" y1="251.00" x2="181.60" y2="418.70" stroke="#666666" stroke-width="1.0"/>
<line x1="46.50" y1="322.87" x2="254.00" y2="322.87" stroke="#2e2e2e" stroke-width="1.3" stroke-dasharray="2.8,2.9"/>
<path d="M46.50,298.00 C48.33,297.63 50.17,297.10 52.00,296.50 C54.00,295.84 56.00,294.99 58.00,294.00 C59.67,293.18 61.33,292.00 63.00,291.00 C64.67,290.00 66.33,289.02 68.00,288.00 C69.33,287.18 70.67,286.33 72.00,285.50 C73.33,284.67 74.67,283.00 76.00,283.00 C77.00,283.00 78.00,285.33 79.00,286.50 C80.00,287.67 81.00,288.83 82.00,290.00" fill="none" stroke="#f766ac" stroke-width="0.95" stroke-linejoin="round" stroke-linecap="round"/>
<path d="M187.00,276.00 C188.00,273.67 189.00,271.60 190.00,270.00 C191.00,268.40 192.00,267.14 193.00,266.00 C194.00,264.86 195.00,263.81 196.00,263.00 C197.33,261.92 198.67,261.00 200.00,260.30 C201.33,259.60 202.67,258.96 204.00,258.60 C205.00,258.33 206.00,258.10 207.00,258.00" fill="none" stroke="#f766ac" stroke-width="0.95" stroke-linejoin="round" stroke-linecap="round"/>
<path d="M46.50,298.00 C48.33,297.80 50.17,296.64 52.00,295.40 C53.33,294.50 54.67,291.41 56.00,291.00 C58.00,290.39 60.00,290.53 62.00,290.00 C64.00,289.47 66.00,287.53 68.00,286.00 C69.33,284.98 70.67,283.84 72.00,282.50 C73.00,281.49 74.00,279.00 75.00,279.00 C75.33,279.00 75.67,280.00 76.00,280.00 C76.67,280.00 77.33,278.20 78.00,277.50 C79.33,276.10 80.67,274.42 82.00,274.00 C84.67,273.16 87.33,273.27 90.00,272.60 C93.33,271.77 96.67,269.82 100.00,268.00 C101.67,267.09 103.33,265.96 105.00,264.80 C106.67,263.64 108.33,262.19 110.00,261.00 C112.00,259.58 114.00,258.26 116.00,257.00 C117.67,255.95 119.33,254.00 121.00,254.00 C124.00,254.00 127.00,254.27 130.00,254.60 C132.67,254.89 135.33,255.80 138.00,257.00 C139.33,257.60 140.67,258.92 142.00,260.00 C143.30,261.05 144.60,262.55 145.90,263.40 C147.60,264.51 149.30,266.00 151.00,266.00 C154.00,266.00 157.00,264.80 160.00,264.00 C163.33,263.11 166.67,261.51 170.00,260.60 C173.87,259.55 177.73,258.00 181.60,258.00 C183.40,258.00 185.20,258.27 187.00,258.60 C189.33,259.03 191.67,263.40 194.00,263.40 C195.33,263.40 196.67,259.53 198.00,258.00 C199.33,256.47 200.67,254.00 202.00,254.00 C203.67,254.00 205.33,256.20 207.00,258.00 C208.17,259.26 209.33,261.67 210.50,263.50 C211.67,265.33 212.83,267.29 214.00,269.00 C215.33,270.96 216.67,272.67 218.00,274.50 C219.33,276.33 220.67,278.35 222.00,280.00 C223.33,281.65 224.67,283.19 226.00,284.50 C227.33,285.81 228.67,286.99 230.00,288.00 C231.67,289.26 233.33,290.31 235.00,291.30 C236.67,292.29 238.33,293.34 240.00,294.00 C243.33,295.33 246.67,296.36 250.00,297.00 C251.33,297.25 252.67,297.46 254.00,297.60" fill="none" stroke="#cf8cf0" stroke-width="1.15" stroke-linejoin="round" stroke-linecap="round"/>
<path d="M207.00,258.00 C208.17,260.28 209.33,262.43 210.50,264.40 C211.67,266.37 212.83,268.19 214.00,269.90 C215.33,271.86 216.67,273.57 218.00,275.40 C219.33,277.23 220.67,279.25 222.00,280.90 C223.33,282.55 224.67,284.09 226.00,285.40 C227.33,286.71 228.67,287.89 230.00,288.90 C231.67,290.16 233.33,291.21 235.00,292.20 C236.67,293.19 238.33,294.24 240.00,294.90 C243.33,296.23 246.67,297.26 250.00,297.90 C251.33,298.15 252.67,298.36 254.00,298.50" fill="none" stroke="#f766ac" stroke-width="0.95" stroke-linejoin="round" stroke-linecap="round"/>
<path d="M46.50,300.00 C48.33,299.31 50.17,298.64 52.00,298.00 C54.00,297.30 56.00,296.00 58.00,296.00 C59.67,296.00 61.33,296.94 63.00,297.50 C64.67,298.06 66.33,299.40 68.00,299.40 C69.33,299.40 70.67,298.80 72.00,298.30 C73.33,297.80 74.67,296.92 76.00,296.00 C77.00,295.31 78.00,294.33 79.00,293.50 C80.00,292.67 81.00,291.48 82.00,291.00 C85.33,289.39 88.67,289.27 92.00,288.00 C94.33,287.11 96.67,285.67 99.00,284.50 C101.33,283.33 103.67,282.37 106.00,281.00 C107.67,280.02 109.33,278.67 111.00,277.50 C112.67,276.33 114.33,274.97 116.00,274.00 C117.67,273.03 119.33,272.12 121.00,271.50 C122.67,270.88 124.33,270.00 126.00,270.00 C127.33,270.00 128.67,270.40 130.00,270.70 C131.33,271.00 132.67,271.47 134.00,272.00 C135.33,272.53 136.67,273.33 138.00,274.00 C139.33,274.67 140.67,276.00 142.00,276.00 C143.33,276.00 144.67,275.70 146.00,275.50 C147.67,275.26 149.33,274.60 151.00,274.60 C152.67,274.60 154.33,275.09 156.00,275.30 C158.00,275.56 160.00,275.73 162.00,276.00 C164.00,276.27 166.00,276.67 168.00,277.00 C170.00,277.33 172.00,278.00 174.00,278.00 C176.53,278.00 179.07,277.67 181.60,277.40 C183.40,277.21 185.20,276.60 187.00,276.60 C187.67,276.60 188.33,279.00 189.00,279.00 C190.00,279.00 191.00,277.44 192.00,277.00 C193.00,276.56 194.00,276.00 195.00,276.00 C196.00,276.00 197.00,277.53 198.00,278.50 C199.67,280.12 201.33,282.24 203.00,284.50 C204.50,286.54 206.00,289.17 207.50,291.50 C209.00,293.83 210.50,296.31 212.00,298.50 C213.70,300.98 215.40,305.50 217.10,305.50 C218.40,305.50 219.70,304.17 221.00,303.70 C222.37,303.21 223.73,302.87 225.10,302.50 C227.77,301.77 230.43,300.70 233.10,300.50 C237.07,300.20 241.03,300.00 245.00,300.00 C248.00,300.00 251.00,300.26 254.00,300.60" fill="none" stroke="#dc2f48" stroke-width="1.35" stroke-linejoin="round" stroke-linecap="round"/>
<path d="M46.50,351.00 C48.33,351.94 50.17,352.95 52.00,354.00 C53.00,354.57 54.00,355.32 55.00,355.80 C56.00,356.28 57.00,357.00 58.00,357.00 C59.33,357.00 60.67,356.44 62.00,356.00 C63.33,355.56 64.67,354.80 66.00,354.00 C67.33,353.20 68.67,352.00 70.00,351.00 C71.33,350.00 72.67,349.00 74.00,348.00 C75.33,347.00 76.67,346.00 78.00,345.00 C79.33,344.00 80.67,343.00 82.00,342.00" fill="none" stroke="#86cccc" stroke-width="1.05" stroke-linejoin="round" stroke-linecap="round"/>
<path d="M187.00,282.00 C189.53,285.47 192.07,289.08 194.60,292.80 C196.73,295.93 198.87,299.06 201.00,302.50 C203.17,305.99 205.33,310.23 207.50,313.70 C209.63,317.12 211.77,320.08 213.90,323.30 C216.03,326.52 218.17,330.26 220.30,333.00 C222.97,336.42 225.63,339.73 228.30,341.80 C230.97,343.87 233.63,345.33 236.30,346.60 C239.20,347.98 242.10,349.29 245.00,350.00 C248.00,350.73 251.00,351.39 254.00,351.60" fill="none" stroke="#86cccc" stroke-width="1.05" stroke-linejoin="round" stroke-linecap="round"/>
<path d="M46.50,329.00 C48.33,329.00 50.17,329.00 52.00,329.00 C54.00,329.00 56.00,329.19 58.00,329.40 C60.00,329.61 62.00,330.36 64.00,331.00 C66.00,331.64 68.00,332.48 70.00,333.40 C71.33,334.01 72.67,334.68 74.00,335.50 C75.33,336.32 76.67,337.59 78.00,338.50 C79.33,339.41 80.67,340.52 82.00,341.00 C83.33,341.48 84.67,342.00 86.00,342.00 C87.33,342.00 88.67,341.45 90.00,341.10 C92.53,340.43 95.07,339.60 97.60,338.50 C100.10,337.42 102.60,335.65 105.10,334.10 C107.63,332.53 110.17,330.93 112.70,329.10 C115.23,327.27 117.77,325.37 120.30,323.00 C122.80,320.66 125.30,317.55 127.80,314.60 C130.33,311.61 132.87,307.69 135.40,305.10 C137.07,303.40 138.73,301.43 140.40,300.70 C142.23,299.89 144.07,299.37 145.90,299.10 C147.60,298.85 149.30,298.86 151.00,298.60 C152.67,298.35 154.33,297.70 156.00,297.00 C157.67,296.30 159.33,295.10 161.00,294.00 C162.67,292.90 164.33,291.46 166.00,290.30 C167.67,289.14 169.33,287.93 171.00,287.00 C172.67,286.07 174.33,285.28 176.00,284.60 C177.87,283.83 179.73,282.78 181.60,282.60 C182.73,282.49 183.87,282.52 185.00,282.40 C186.17,282.28 187.33,280.80 188.50,280.80 C190.00,280.80 191.50,288.70 193.00,291.20 C195.13,294.75 197.27,297.20 199.40,299.30 C201.60,301.46 203.80,303.61 206.00,304.60 C207.67,305.35 209.33,305.86 211.00,306.20 C212.33,306.47 213.67,306.50 215.00,306.80 C216.33,307.10 217.67,307.77 219.00,308.50 C221.00,309.60 223.00,311.68 225.00,313.50 C227.70,315.96 230.40,319.63 233.10,321.70 C235.23,323.33 237.37,324.61 239.50,325.70 C241.33,326.64 243.17,327.69 245.00,328.10 C248.00,328.78 251.00,329.40 254.00,329.40" fill="none" stroke="#eeb84a" stroke-width="1.25" stroke-linejoin="round" stroke-linecap="round"/>
<path d="M46.50,360.00 C48.00,360.00 49.50,360.00 51.00,360.00 C52.33,360.00 53.67,360.00 55.00,360.00 C56.00,360.00 57.00,361.14 58.00,362.00 C59.33,363.14 60.67,365.33 62.00,367.00 C63.33,368.67 64.67,370.33 66.00,372.00 C67.33,373.67 68.67,375.33 70.00,377.00 C71.33,378.67 72.67,380.46 74.00,382.00 C75.33,383.54 76.67,384.90 78.00,386.30 C79.33,387.70 80.67,389.07 82.00,390.40" fill="none" stroke="#fb9296" stroke-width="1.00" stroke-linejoin="round" stroke-linecap="round"/>
<path d="M187.00,360.00 C188.33,358.00 189.67,356.14 191.00,354.50 C192.67,352.45 194.33,350.62 196.00,349.00 C197.33,347.71 198.67,346.47 200.00,345.50 C201.33,344.53 202.67,343.47 204.00,343.00 C206.00,342.30 208.00,341.60 210.00,341.60 C211.33,341.60 212.67,342.06 214.00,342.50 C215.33,342.94 216.67,344.14 218.00,345.00 C220.00,346.29 222.00,347.67 224.00,349.00 C226.00,350.33 228.00,351.86 230.00,353.00 C232.00,354.14 234.00,355.11 236.00,356.00 C238.00,356.89 240.00,357.90 242.00,358.40 C244.00,358.90 246.00,359.27 248.00,359.50 C250.00,359.73 252.00,359.93 254.00,360.00" fill="none" stroke="#fb9296" stroke-width="1.00" stroke-linejoin="round" stroke-linecap="round"/>
<path d="M46.50,408.60 C48.00,408.45 49.50,408.24 51.00,408.00 C52.67,407.73 54.33,407.42 56.00,407.00 C57.67,406.58 59.33,405.95 61.00,405.30 C62.67,404.65 64.33,403.86 66.00,403.00 C67.33,402.32 68.67,401.53 70.00,400.70 C71.33,399.87 72.67,398.95 74.00,398.00 C75.33,397.05 76.67,396.09 78.00,395.00 C79.33,393.91 80.67,392.70 82.00,391.40" fill="none" stroke="#3a9a44" stroke-width="1.30" stroke-linejoin="round" stroke-linecap="round"/>
<path d="M187.00,360.00 C188.67,361.85 190.33,363.68 192.00,365.50 C194.00,367.68 196.00,369.83 198.00,372.00 C200.00,374.17 202.00,376.33 204.00,378.50 C206.00,380.67 208.00,382.98 210.00,385.00 C212.00,387.02 214.00,388.87 216.00,390.70 C218.00,392.53 220.00,394.40 222.00,396.00 C224.00,397.60 226.00,399.08 228.00,400.40 C230.00,401.72 232.00,403.05 234.00,404.00 C235.67,404.80 237.33,405.41 239.00,406.00 C240.67,406.59 242.33,407.26 244.00,407.60 C247.33,408.28 250.67,408.93 254.00,409.00" fill="none" stroke="#3a9a44" stroke-width="1.30" stroke-linejoin="round" stroke-linecap="round"/>
<path d="M82.00,391.00 C83.33,390.90 84.67,390.80 86.00,390.70 C87.33,390.60 88.67,390.55 90.00,390.40 C92.00,390.18 94.00,389.55 96.00,389.00 C98.00,388.45 100.00,387.85 102.00,387.00 C104.00,386.15 106.00,384.81 108.00,383.50 C110.00,382.19 112.00,380.62 114.00,379.00 C116.00,377.38 118.00,375.53 120.00,373.70 C122.00,371.87 124.00,369.73 126.00,368.00 C127.67,366.56 129.33,365.33 131.00,364.00 C132.67,362.67 134.33,361.03 136.00,360.00 C137.67,358.97 139.33,358.23 141.00,357.50 C142.63,356.79 144.27,355.60 145.90,355.60 C147.60,355.60 149.30,355.60 151.00,355.60 C153.33,355.60 155.67,356.23 158.00,356.60 C160.67,357.02 163.33,357.61 166.00,358.00 C168.67,358.39 171.33,358.74 174.00,359.00 C176.53,359.24 179.07,359.41 181.60,359.60 C183.40,359.74 185.20,359.87 187.00,360.00" fill="none" stroke="#9b7446" stroke-width="1.30" stroke-linejoin="round" stroke-linecap="round"/>
<line x1="46.50" y1="303.40" x2="97.10" y2="303.40" stroke="#2e2e2e" stroke-width="1.35" stroke-dasharray="4.3,2.9"/>
<line x1="46.50" y1="327.10" x2="97.10" y2="327.10" stroke="#2e2e2e" stroke-width="1.35" stroke-dasharray="4.3,2.9"/>
<line x1="97.10" y1="303.40" x2="97.10" y2="327.10" stroke="#2e2e2e" stroke-width="1.35" stroke-dasharray="3.8,3.5"/>
<line x1="97.10" y1="313.10" x2="106.40" y2="313.10" stroke="#2e2e2e" stroke-width="1.2"/>
<text x="106.60" y="316.70" class="bg">BG1</text>
<line x1="145.90" y1="300.80" x2="180.60" y2="300.80" stroke="#2e2e2e" stroke-width="1.35" stroke-dasharray="4.3,2.9"/>
<line x1="145.90" y1="355.50" x2="180.60" y2="355.50" stroke="#2e2e2e" stroke-width="1.35" stroke-dasharray="4.3,2.9"/>
<line x1="150.50" y1="300.80" x2="150.50" y2="355.50" stroke="#2e2e2e" stroke-width="1.35" stroke-dasharray="3.8,3.5"/>
<line x1="150.50" y1="338.10" x2="159.40" y2="338.10" stroke="#2e2e2e" stroke-width="1.2"/>
<text x="159.40" y="343.00" class="bg">BG2</text>
<text x="42.40" y="254.20" class="tk">15</text>
<line x1="46.50" y1="274.96" x2="49.70" y2="274.96" stroke="#3d3d3d" stroke-width="1.3"/>
<text x="42.40" y="278.16" class="tk">10</text>
<line x1="46.50" y1="298.91" x2="49.70" y2="298.91" stroke="#3d3d3d" stroke-width="1.3"/>
<text x="42.40" y="302.11" class="tk">5</text>
<line x1="46.50" y1="322.87" x2="49.70" y2="322.87" stroke="#3d3d3d" stroke-width="1.3"/>
<text x="42.40" y="326.07" class="tk">0</text>
<line x1="46.50" y1="346.83" x2="49.70" y2="346.83" stroke="#3d3d3d" stroke-width="1.3"/>
<text x="42.40" y="350.03" class="tk">-5</text>
<line x1="46.50" y1="370.79" x2="49.70" y2="370.79" stroke="#3d3d3d" stroke-width="1.3"/>
<text x="42.40" y="373.99" class="tk">-10</text>
<line x1="46.50" y1="394.74" x2="49.70" y2="394.74" stroke="#3d3d3d" stroke-width="1.3"/>
<text x="42.40" y="397.94" class="tk">-15</text>
<text x="42.40" y="421.90" class="tk">-20</text>
<rect x="46.50" y="251.00" width="207.50" height="167.70" fill="none" stroke="#3d3d3d" stroke-width="1.5" stroke-linejoin="round"/>
<text x="46.50" y="435.60" class="kl">Γ</text>
<text x="82.00" y="435.60" class="kl">Y</text>
<text x="145.90" y="435.60" class="kl">M</text>
<text x="181.60" y="435.60" class="kl">X</text>
<text x="254.00" y="435.60" class="kl">Γ</text>
<text transform="translate(25.20,365.80) rotate(-90)" class="ttl"><tspan x="0">Energy</tspan><tspan x="35.0">(</tspan><tspan x="40.6">e</tspan><tspan x="45.5">V</tspan><tspan x="54.3">)</tspan></text>
<text x="1.40" y="246.00" class="pl">(c)</text>
<line x1="355.40" y1="251.40" x2="355.40" y2="419.00" stroke="#666666" stroke-width="1.0"/>
<line x1="430.00" y1="251.40" x2="430.00" y2="419.00" stroke="#666666" stroke-width="1.0"/>
<line x1="472.00" y1="251.40" x2="472.00" y2="419.00" stroke="#666666" stroke-width="1.0"/>
<line x1="313.70" y1="327.58" x2="520.60" y2="327.58" stroke="#2e2e2e" stroke-width="1.3" stroke-dasharray="2.8,2.9"/>
<path d="M313.70,303.40 C316.13,303.40 318.57,303.40 321.00,303.40 C322.67,303.40 324.33,301.40 326.00,300.70 C327.67,300.00 329.33,299.72 331.00,299.00 C332.67,298.28 334.33,297.05 336.00,296.00 C338.00,294.74 340.00,292.00 342.00,292.00 C343.33,292.00 344.67,294.46 346.00,295.50 C347.67,296.80 349.33,298.00 351.00,299.00" fill="none" stroke="#f766ac" stroke-width="0.95" stroke-linejoin="round" stroke-linecap="round"/>
<path d="M454.00,293.40 C455.00,291.96 456.00,290.65 457.00,289.50 C457.80,288.58 458.60,287.00 459.40,287.00 C460.93,287.00 462.47,288.10 464.00,288.10 C465.27,288.10 466.53,287.42 467.80,287.00 C468.83,286.66 469.87,286.01 470.90,285.80 C472.93,285.38 474.97,285.35 477.00,285.00 C478.50,284.74 480.00,283.90 481.50,283.90 C482.33,283.90 483.17,284.70 484.00,285.50" fill="none" stroke="#f766ac" stroke-width="0.95" stroke-linejoin="round" stroke-linecap="round"/>
<path d="M313.70,303.40 C316.13,303.40 318.57,303.40 321.00,303.40 C322.33,303.40 323.67,301.63 325.00,300.80 C326.33,299.97 327.67,299.21 329.00,298.40 C331.00,297.18 333.00,295.93 335.00,294.70 C337.00,293.47 339.00,292.22 341.00,291.00 C342.67,289.99 344.33,289.00 346.00,288.00 C347.67,287.00 349.33,285.46 351.00,285.00 C352.47,284.60 353.93,284.32 355.40,284.20 C356.60,284.10 357.80,284.11 359.00,284.00 C361.00,283.82 363.00,282.33 365.00,281.50 C367.00,280.67 369.00,279.91 371.00,279.00 C373.00,278.09 375.00,277.02 377.00,276.00 C378.67,275.15 380.33,273.40 382.00,273.40 C383.67,273.40 385.33,274.80 387.00,275.50 C388.67,276.20 390.33,277.42 392.00,277.60 C394.33,277.85 396.67,277.74 399.00,278.00 C400.33,278.15 401.67,279.20 403.00,280.00 C404.33,280.80 405.67,281.97 407.00,283.00 C408.67,284.29 410.33,285.51 412.00,287.00 C413.33,288.19 414.67,291.00 416.00,291.00 C418.33,291.00 420.67,289.43 423.00,288.70 C425.33,287.97 427.67,287.34 430.00,286.60 C432.00,285.97 434.00,285.15 436.00,284.60 C438.00,284.05 440.00,283.20 442.00,283.20 C444.00,283.20 446.00,283.39 448.00,283.50 C450.30,283.62 452.60,283.65 454.90,283.90 C456.40,284.07 457.90,286.20 459.40,286.20 C460.57,286.20 461.73,283.90 462.90,283.90 C464.03,283.90 465.17,284.79 466.30,285.00 C467.30,285.19 468.30,285.40 469.30,285.40 C470.33,285.40 471.37,283.93 472.40,283.10 C473.40,282.30 474.40,281.04 475.40,280.50 C476.43,279.95 477.47,279.30 478.50,279.30 C479.50,279.30 480.50,281.78 481.50,282.80 C483.67,285.01 485.83,286.65 488.00,288.50 C489.00,289.35 490.00,290.18 491.00,291.00 C492.67,292.36 494.33,293.82 496.00,295.00 C498.00,296.42 500.00,297.64 502.00,298.80 C504.00,299.96 506.00,301.38 508.00,302.00 C510.00,302.62 512.00,303.01 514.00,303.30 C516.20,303.62 518.40,303.89 520.60,304.00" fill="none" stroke="#cf8cf0" stroke-width="1.15" stroke-linejoin="round" stroke-linecap="round"/>
<path d="M484.00,285.50 C485.33,286.91 486.67,288.21 488.00,289.40 C489.00,290.30 490.00,291.08 491.00,291.90 C492.67,293.26 494.33,294.72 496.00,295.90 C498.00,297.32 500.00,298.54 502.00,299.70 C504.00,300.86 506.00,302.28 508.00,302.90 C510.00,303.52 512.00,303.91 514.00,304.20 C516.20,304.52 518.40,304.79 520.60,304.90" fill="none" stroke="#f766ac" stroke-width="0.95" stroke-linejoin="round" stroke-linecap="round"/>
<path d="M313.70,316.80 C314.80,315.68 315.90,314.58 317.00,313.50 C318.10,312.42 319.20,311.46 320.30,310.30 C321.20,309.35 322.10,307.89 323.00,307.20 C323.80,306.59 324.60,305.91 325.40,305.80 C326.27,305.68 327.13,305.60 328.00,305.60 C329.00,305.60 330.00,306.12 331.00,306.30 C332.33,306.55 333.67,306.90 335.00,306.90 C336.67,306.90 338.33,306.43 340.00,306.00 C341.33,305.66 342.67,304.91 344.00,304.30 C345.33,303.69 346.67,303.03 348.00,302.30 C349.00,301.75 350.00,300.86 351.00,300.50 C352.47,299.97 353.93,299.74 355.40,299.40 C357.60,298.89 359.80,298.56 362.00,298.00 C364.33,297.41 366.67,296.68 369.00,295.80 C371.00,295.05 373.00,293.97 375.00,293.00 C377.00,292.03 379.00,290.73 381.00,290.00 C383.33,289.15 385.67,288.00 388.00,288.00 C389.33,288.00 390.67,289.15 392.00,290.00 C393.67,291.06 395.33,292.92 397.00,294.50 C398.33,295.77 399.67,297.51 401.00,298.50 C402.67,299.74 404.33,301.40 406.00,301.40 C407.33,301.40 408.67,300.67 410.00,300.00 C411.00,299.50 412.00,298.36 413.00,297.50 C414.67,296.06 416.33,293.00 418.00,293.00 C419.67,293.00 421.33,294.58 423.00,295.20 C425.33,296.06 427.67,296.80 430.00,297.40 C431.67,297.83 433.33,298.17 435.00,298.50 C436.67,298.83 438.33,299.40 440.00,299.40 C441.33,299.40 442.67,298.12 444.00,297.50 C445.33,296.88 446.67,296.27 448.00,295.70 C449.90,294.89 451.80,293.40 453.70,293.40 C454.63,293.40 455.57,295.64 456.50,296.50 C457.47,297.39 458.43,298.80 459.40,298.80 C460.93,298.80 462.47,296.50 464.00,296.50 C465.27,296.50 466.53,297.00 467.80,297.60 C468.57,297.96 469.33,299.09 470.10,299.90 C470.73,300.57 471.37,301.29 472.00,302.00 C473.33,303.49 474.67,305.00 476.00,306.50 C477.33,308.00 478.67,310.33 480.00,311.00 C481.33,311.67 482.67,312.00 484.00,312.30 C485.33,312.60 486.67,312.81 488.00,313.00 C490.33,313.33 492.67,313.53 495.00,313.80 C497.33,314.07 499.67,314.34 502.00,314.60 C505.00,314.94 508.00,315.28 511.00,315.60 C514.20,315.94 517.40,316.28 520.60,316.60" fill="none" stroke="#dc2f48" stroke-width="1.35" stroke-linejoin="round" stroke-linecap="round"/>
<path d="M313.70,347.60 C314.80,348.39 315.90,349.13 317.00,349.80 C318.33,350.61 319.67,351.31 321.00,352.00 C322.17,352.60 323.33,353.21 324.50,353.70 C325.67,354.19 326.83,355.00 328.00,355.00 C329.50,355.00 331.00,354.41 332.50,354.00 C334.00,353.59 335.50,353.04 337.00,352.40 C338.33,351.83 339.67,351.03 341.00,350.30 C342.33,349.57 343.67,348.85 345.00,348.00 C346.67,346.94 348.33,345.73 350.00,344.40" fill="none" stroke="#86cccc" stroke-width="1.05" stroke-linejoin="round" stroke-linecap="round"/>
<path d="M454.00,304.00 C456.00,305.50 458.00,307.00 460.00,308.50 C462.00,310.00 464.00,311.28 466.00,313.00 C467.67,314.43 469.33,316.33 471.00,318.00 C472.67,319.67 474.33,321.33 476.00,323.00 C477.67,324.67 479.33,326.33 481.00,328.00 C483.00,330.00 485.00,332.11 487.00,334.00 C488.67,335.58 490.33,337.28 492.00,338.50 C493.33,339.48 494.67,340.26 496.00,341.00 C497.67,341.93 499.33,342.74 501.00,343.50 C502.67,344.26 504.33,345.10 506.00,345.60 C508.33,346.30 510.67,346.76 513.00,347.20 C515.53,347.67 518.07,348.09 520.60,348.40" fill="none" stroke="#86cccc" stroke-width="1.05" stroke-linejoin="round" stroke-linecap="round"/>
<path d="M313.70,331.20 C315.13,331.20 316.57,331.25 318.00,331.30 C319.90,331.36 321.80,331.48 323.70,331.70 C325.47,331.90 327.23,332.64 329.00,333.20 C330.67,333.73 332.33,334.23 334.00,335.00 C335.33,335.62 336.67,336.64 338.00,337.50 C339.00,338.15 340.00,338.89 341.00,339.50 C342.33,340.31 343.67,341.03 345.00,341.70 C346.67,342.54 348.33,343.80 350.00,344.00 C352.00,344.24 354.00,344.40 356.00,344.40 C357.67,344.40 359.33,343.51 361.00,343.00 C363.00,342.39 365.00,341.80 367.00,341.00 C369.00,340.20 371.00,339.00 373.00,338.00 C375.00,337.00 377.00,336.36 379.00,335.00 C380.33,334.09 381.67,332.33 383.00,331.00 C384.33,329.67 385.67,328.22 387.00,327.00 C389.00,325.17 391.00,323.67 393.00,322.00 C395.00,320.33 397.00,318.45 399.00,317.00 C400.33,316.03 401.67,315.23 403.00,314.40 C404.33,313.57 405.67,312.00 407.00,312.00 C408.00,312.00 409.00,312.11 410.00,312.20 C411.00,312.29 412.00,312.46 413.00,312.60 C414.67,312.84 416.33,313.40 418.00,313.40 C420.00,313.40 422.00,312.66 424.00,312.20 C426.00,311.74 428.00,311.32 430.00,310.60 C432.00,309.88 434.00,308.40 436.00,307.30 C438.00,306.20 440.00,304.13 442.00,304.00 C444.00,303.87 446.00,303.80 448.00,303.80 C450.00,303.80 452.00,304.00 454.00,304.00 C454.83,304.00 455.67,302.76 456.50,302.20 C457.33,301.64 458.17,300.60 459.00,300.60 C460.17,300.60 461.33,303.07 462.50,304.30 C463.67,305.53 464.83,306.80 466.00,308.00 C467.00,309.03 468.00,310.20 469.00,311.00 C470.00,311.80 471.00,312.63 472.00,313.00 C473.33,313.50 474.67,313.75 476.00,314.00 C477.33,314.25 478.67,314.31 480.00,314.60 C481.67,314.97 483.33,315.93 485.00,316.80 C486.67,317.67 488.33,318.89 490.00,320.00 C492.00,321.34 494.00,322.87 496.00,324.20 C498.00,325.53 500.00,327.03 502.00,328.00 C503.67,328.81 505.33,329.56 507.00,330.00 C508.67,330.44 510.33,330.75 512.00,331.00 C514.87,331.43 517.73,331.82 520.60,332.00" fill="none" stroke="#eeb84a" stroke-width="1.25" stroke-linejoin="round" stroke-linecap="round"/>
<path d="M313.70,359.60 C315.47,359.56 317.23,359.53 319.00,359.50 C321.00,359.46 323.00,359.40 325.00,359.40 C326.33,359.40 327.67,360.90 329.00,362.00 C330.33,363.10 331.67,365.00 333.00,366.50 C334.33,368.00 335.67,369.59 337.00,371.00 C338.33,372.41 339.67,373.67 341.00,375.00 C342.33,376.33 343.67,377.94 345.00,379.00 C346.00,379.79 347.00,380.36 348.00,381.00 C348.87,381.55 349.73,382.09 350.60,382.60" fill="none" stroke="#fb9296" stroke-width="1.00" stroke-linejoin="round" stroke-linecap="round"/>
<path d="M454.00,356.60 C455.33,354.97 456.67,353.43 458.00,352.00 C459.33,350.57 460.67,348.90 462.00,348.00 C463.67,346.88 465.33,346.12 467.00,345.50 C468.67,344.88 470.33,344.00 472.00,344.00 C473.33,344.00 474.67,344.09 476.00,344.20 C477.33,344.31 478.67,344.63 480.00,345.00 C482.00,345.56 484.00,347.00 486.00,348.00 C488.00,349.00 490.00,349.97 492.00,351.00 C494.00,352.03 496.00,353.20 498.00,354.20 C500.00,355.20 502.00,356.43 504.00,357.00 C506.67,357.76 509.33,358.21 512.00,358.60 C514.87,359.02 517.73,359.39 520.60,359.60" fill="none" stroke="#fb9296" stroke-width="1.00" stroke-linejoin="round" stroke-linecap="round"/>
<path d="M313.70,398.60 C315.13,398.50 316.57,398.32 318.00,398.10 C319.67,397.85 321.33,397.42 323.00,397.00 C324.67,396.58 326.33,396.06 328.00,395.50 C329.67,394.94 331.33,394.31 333.00,393.60 C334.67,392.89 336.33,392.06 338.00,391.20 C339.67,390.34 341.33,389.42 343.00,388.40 C344.33,387.58 345.67,386.71 347.00,385.70 C348.20,384.79 349.40,383.74 350.60,382.60" fill="none" stroke="#3a9a44" stroke-width="1.30" stroke-linejoin="round" stroke-linecap="round"/>
<path d="M454.00,356.60 C455.33,358.17 456.67,359.73 458.00,361.30 C459.33,362.87 460.67,364.62 462.00,366.00 C463.67,367.73 465.33,369.10 467.00,370.60 C468.67,372.10 470.33,373.57 472.00,375.00 C474.00,376.71 476.00,378.33 478.00,380.00 C480.00,381.67 482.00,383.46 484.00,385.00 C486.00,386.54 488.00,387.97 490.00,389.30 C492.00,390.63 494.00,392.05 496.00,393.00 C498.00,393.95 500.00,394.65 502.00,395.30 C504.00,395.95 506.00,396.58 508.00,397.00 C510.00,397.42 512.00,397.82 514.00,398.00 C516.20,398.20 518.40,398.39 520.60,398.40" fill="none" stroke="#3a9a44" stroke-width="1.30" stroke-linejoin="round" stroke-linecap="round"/>
<path d="M350.60,382.60 C352.40,382.60 354.20,382.52 356.00,382.40 C357.67,382.29 359.33,381.51 361.00,381.00 C363.00,380.39 365.00,379.83 367.00,379.00 C369.00,378.17 371.00,376.86 373.00,375.70 C375.00,374.54 377.00,373.32 379.00,372.00 C381.33,370.46 383.67,368.67 386.00,367.00 C388.33,365.33 390.67,363.56 393.00,362.00 C395.00,360.66 397.00,359.36 399.00,358.20 C401.00,357.04 403.00,355.87 405.00,355.00 C406.33,354.42 407.67,353.88 409.00,353.50 C410.33,353.12 411.67,352.60 413.00,352.60 C414.00,352.60 415.00,352.90 416.00,353.00 C418.33,353.23 420.67,353.33 423.00,353.50 C425.33,353.67 427.67,353.76 430.00,354.00 C432.00,354.20 434.00,354.67 436.00,355.00 C438.00,355.33 440.00,355.81 442.00,356.00 C444.00,356.19 446.00,356.31 448.00,356.40 C450.00,356.49 452.00,356.57 454.00,356.60" fill="none" stroke="#9b7446" stroke-width="1.30" stroke-linejoin="round" stroke-linecap="round"/>
<line x1="317.70" y1="319.10" x2="370.70" y2="319.10" stroke="#2e2e2e" stroke-width="1.35" stroke-dasharray="4.3,2.9"/>
<line x1="314.30" y1="330.40" x2="370.70" y2="330.40" stroke="#2e2e2e" stroke-width="1.35" stroke-dasharray="4.3,2.9"/>
<line x1="370.70" y1="319.10" x2="370.70" y2="330.40" stroke="#2e2e2e" stroke-width="1.35" stroke-dasharray="3.8,3.5"/>
<line x1="370.70" y1="324.40" x2="378.80" y2="324.40" stroke="#2e2e2e" stroke-width="1.2"/>
<text x="379.00" y="328.10" class="bg">BG1</text>
<line x1="430.00" y1="310.70" x2="472.00" y2="310.70" stroke="#2e2e2e" stroke-width="1.35" stroke-dasharray="4.3,2.9"/>
<line x1="430.00" y1="353.80" x2="472.00" y2="353.80" stroke="#2e2e2e" stroke-width="1.35" stroke-dasharray="4.3,2.9"/>
<line x1="436.30" y1="310.70" x2="436.30" y2="353.80" stroke="#2e2e2e" stroke-width="1.35" stroke-dasharray="3.8,3.5"/>
<line x1="436.30" y1="337.20" x2="444.80" y2="337.20" stroke="#2e2e2e" stroke-width="1.2"/>
<text x="445.60" y="342.60" class="bg">BG2</text>
<text x="309.80" y="254.90" class="tk">15</text>
<line x1="313.70" y1="276.79" x2="316.90" y2="276.79" stroke="#3d3d3d" stroke-width="1.3"/>
<text x="309.80" y="280.29" class="tk">10</text>
<line x1="313.70" y1="302.19" x2="316.90" y2="302.19" stroke="#3d3d3d" stroke-width="1.3"/>
<text x="309.80" y="305.69" class="tk">5</text>
<line x1="313.70" y1="327.58" x2="316.90" y2="327.58" stroke="#3d3d3d" stroke-width="1.3"/>
<text x="309.80" y="331.08" class="tk">0</text>
<line x1="313.70" y1="352.98" x2="316.90" y2="352.98" stroke="#3d3d3d" stroke-width="1.3"/>
<text x="309.80" y="356.48" class="tk">-5</text>
<line x1="313.70" y1="378.37" x2="316.90" y2="378.37" stroke="#3d3d3d" stroke-width="1.3"/>
<text x="309.80" y="381.87" class="tk">-10</text>
<line x1="313.70" y1="403.76" x2="316.90" y2="403.76" stroke="#3d3d3d" stroke-width="1.3"/>
<text x="309.80" y="407.26" class="tk">-15</text>
<rect x="313.70" y="251.40" width="206.90" height="167.60" fill="none" stroke="#3d3d3d" stroke-width="1.5" stroke-linejoin="round"/>
<text x="313.70" y="435.60" class="kl">Γ</text>
<text x="355.40" y="435.60" class="kl">Y</text>
<text x="430.00" y="435.60" class="kl">M</text>
<text x="472.00" y="435.60" class="kl">X</text>
<text x="520.60" y="435.60" class="kl">Γ</text>
<text transform="translate(292.30,365.80) rotate(-90)" class="ttl"><tspan x="0">Energy</tspan><tspan x="35.0">(</tspan><tspan x="40.6">e</tspan><tspan x="45.5">V</tspan><tspan x="54.3">)</tspan></text>
<text x="277.90" y="246.00" class="pl">(d)</text>
</svg>
</body></html>
